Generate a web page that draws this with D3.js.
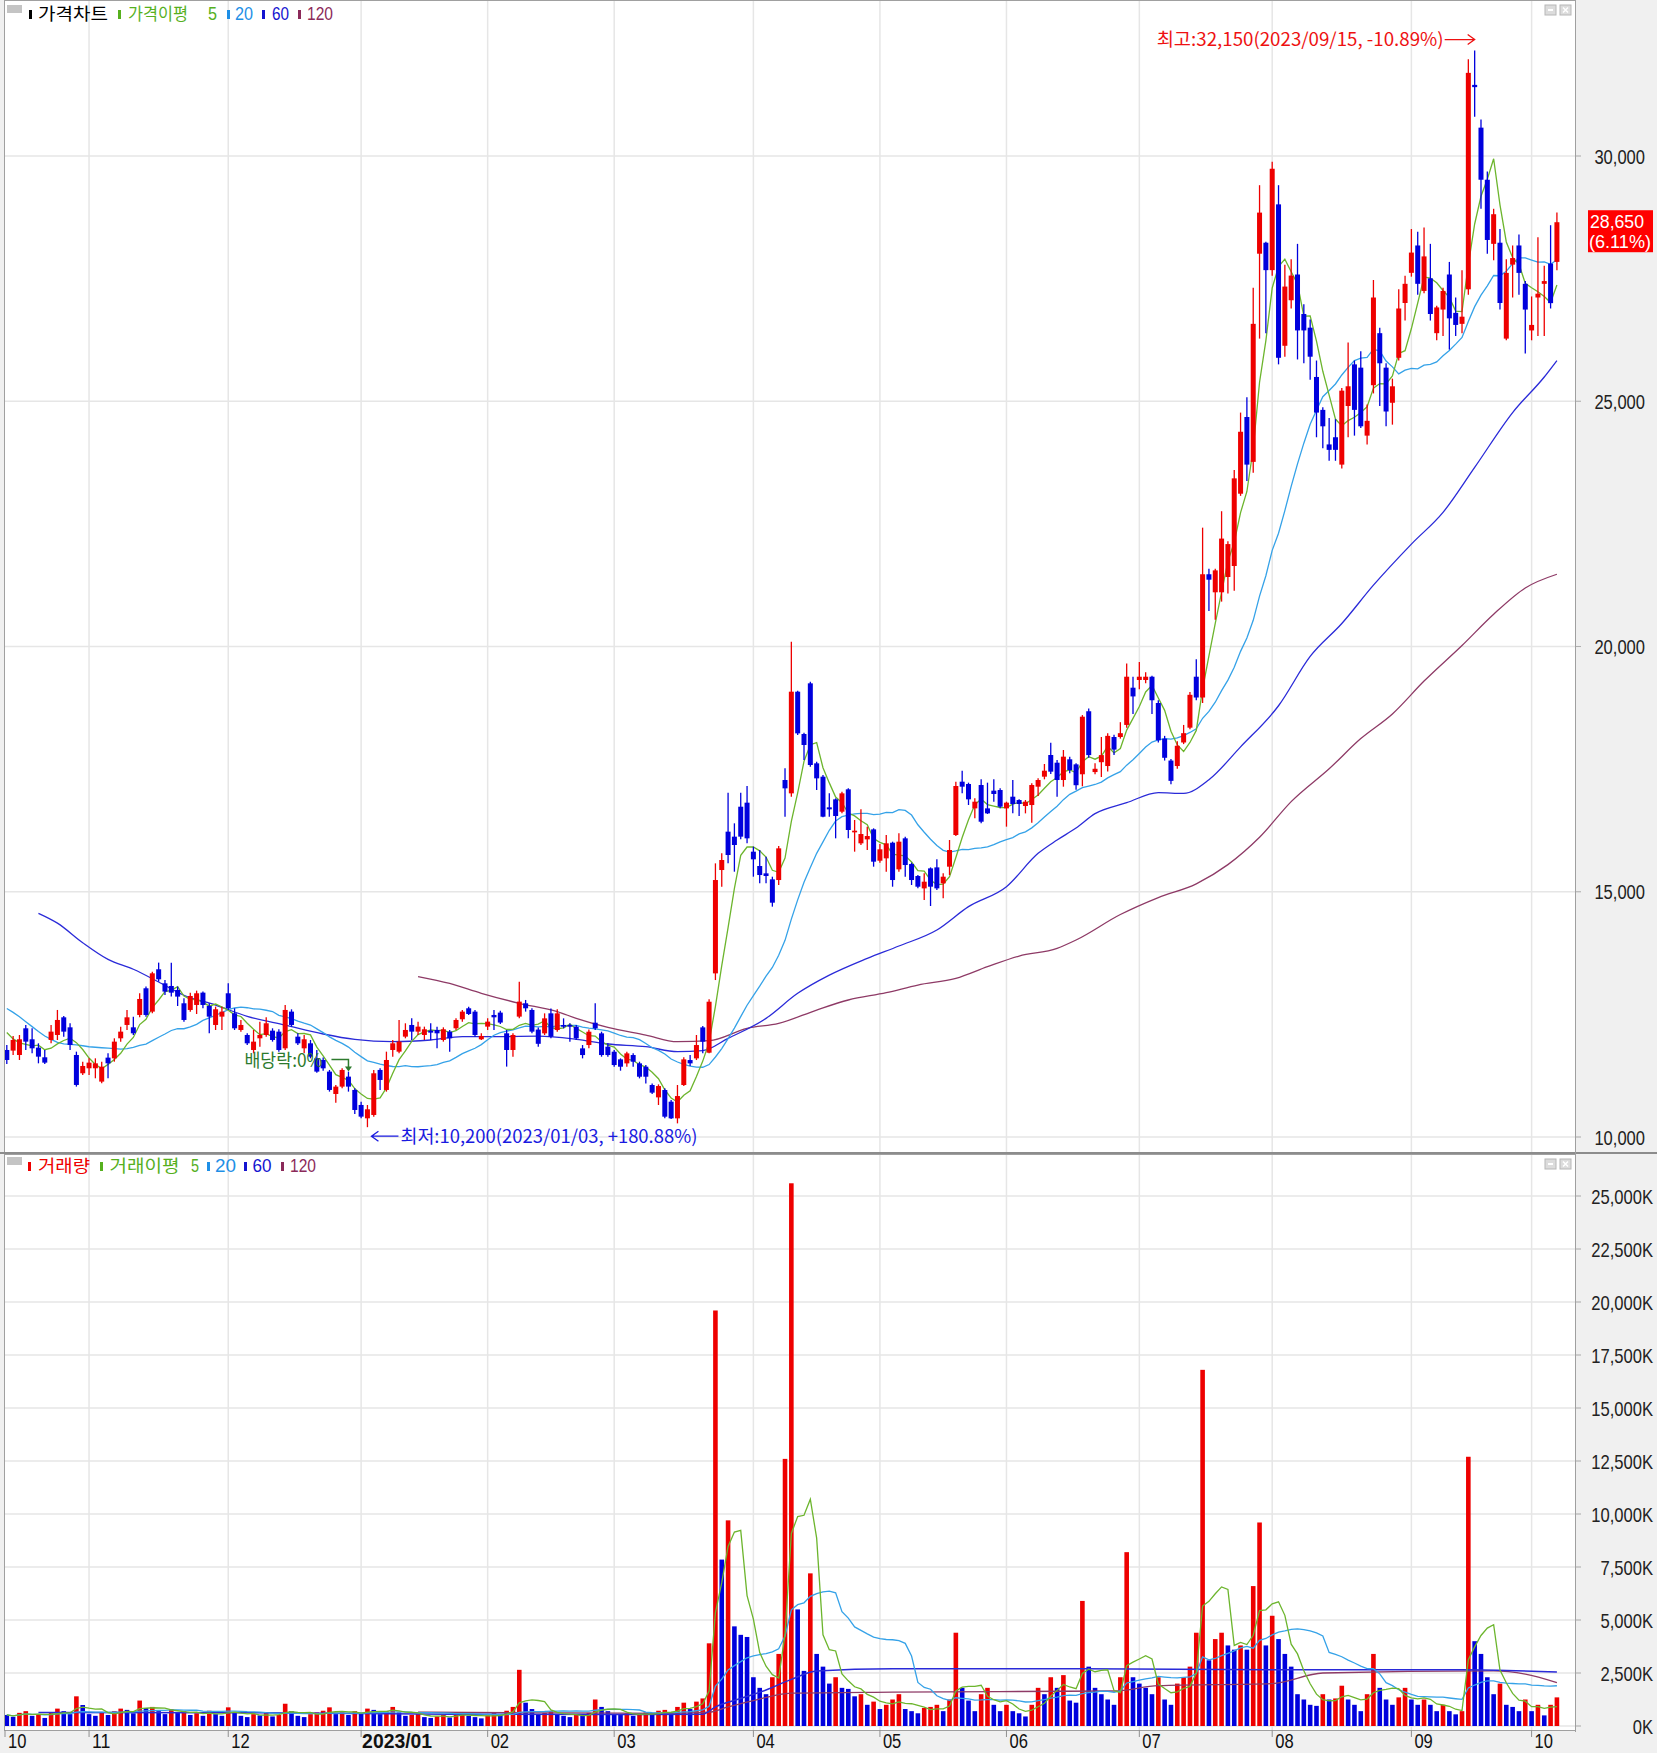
<!DOCTYPE html>
<html><head><meta charset="utf-8">
<script src="https://cdn.jsdelivr.net/npm/d3@7/dist/d3.min.js"></script>
<style>
body{margin:0;background:#fff;}
svg{display:block;}
</style></head><body>
<svg id="c" width="1657" height="1753"></svg>
<script>
// ---------------- DATA (trading days 2022/10/13 .. 2023/10/11) ----------------
const opens=[11774,11761,11672,12216,11992,11822,11625,11978,12080,12440,12236,11672,11299,11401,11401,11129,11618,11604,12012,12284,12236,
12488,13032,12556,13419,13133,13079,12998,12726,12590,12692,12943,12671,12284,12454,12930,12522,12182,12080,11774,12012,
12080,12168,12148,11808,12556,12046,11808,11910,11604,11570,11333,10877,11027,11231,10959,10653,10381,10449,11367,10959,
11774,11740,12046,12284,12148,12080,12168,12182,11978,12148,12216,12400,12624,12556,11992,12250,12488,12536,12114,11774,
12454,12726,12590,12190,12113,12521,12181,12283,12283,12249,11807,11875,12330,12113,11841,11739,11583,11501,11671,11501,
11433,11060,10808,10958,10720,10380,11060,11569,11603,12235,11719,13336,15443,16225,16123,16734,16816,15817,15525,15375,
15253,15239,17278,17006,19079,18216,19249,17618,17346,16721,16884,16632,17088,16211,15987,16068,16272,15633,15681,16000,
15457,16089,15565,15321,15069,15477,15497,15171,15511,16157,17244,17197,16700,17176,16700,17061,17074,16700,16938,16870,
16748,16768,17142,17346,17788,17631,17278,17700,17597,17395,18680,17440,17641,17563,18155,18155,18401,19160,19317,19317,
19384,18848,18122,17675,17563,18043,18345,19384,18960,21473,21105,21105,21417,21641,23115,24679,23764,28008,28232,27673,
29014,26131,27059,27584,26779,26500,25495,24824,24120,24266,23708,24903,25752,25685,24299,25327,26388,25685,24969,25886,
27003,27618,28176,27249,27506,26388,26869,27584,26802,26578,27282,31450,30578,29516,28209,28232,26277,27785,28176,27394,
26444,27115,27394,27807,27841];
const highs=[11876,12060,12080,12284,12216,11910,11774,12284,12590,12468,12318,11740,11536,11604,11604,11536,11706,12012,12250,12590,12454,
12930,13066,13371,13555,13201,13555,13066,12828,12943,12984,12964,12726,12658,12658,13133,12624,12386,12114,12182,12352,
12440,12216,12196,12692,12603,12114,12080,11978,11774,11620,11367,11061,11401,11333,10993,10721,10653,11367,11401,11740,
11978,12386,12318,12420,12352,12250,12318,12250,12236,12182,12420,12590,12658,12590,12114,12420,12590,12576,12182,12114,
13167,12794,12624,12230,12521,12622,12602,12419,12317,12283,11875,12194,12725,12147,11909,11773,11603,11739,11705,11535,
11467,11093,11073,10992,10754,11060,11624,11671,12079,12262,12806,15579,15783,17020,16395,17020,17156,15919,15851,15715,
15307,15933,17516,20098,19099,18243,19283,17652,17380,17006,16904,17040,17108,16463,16680,16327,16293,15973,16157,16021,
16191,16123,15593,15341,15375,15497,15661,15375,16055,17244,17468,17224,16904,17292,17224,17292,17108,16836,17278,16884,
16870,17210,17312,17604,18039,17686,17890,17754,17619,18602,18736,17619,18155,18233,18200,18457,19652,19384,19686,19474,
19406,18904,18178,17708,18066,18401,19071,19742,22423,21585,21585,22758,22144,23596,24769,25082,27316,29405,28254,29885,
29405,27785,27896,28209,26980,26668,25830,24880,24657,24634,25272,26198,25830,26020,24936,27472,26500,25774,25461,27282,
27561,28511,28455,28544,28209,26947,27316,27841,27115,27673,31974,32150,30745,29684,28924,28511,27896,28176,28399,27450,
27137,28343,27762,28589,28846];
const lows=[11489,11672,11570,11774,11706,11502,11489,11910,11978,12046,11774,11027,11265,11265,11197,11095,11197,11536,11944,12182,12080,
12440,12454,12522,13167,12896,12862,12671,12352,12556,12508,12624,12114,12182,12182,12590,12182,12148,11876,11706,11842,
12046,11944,11740,11774,12250,11876,11706,11604,11312,11350,10925,10700,10993,10925,10469,10381,10200,10415,10959,10925,
11638,11706,12012,11978,12080,11978,11978,11808,11944,11740,12182,12352,12488,12046,11978,12182,12182,12304,11435,11638,
12420,12556,12114,11841,12079,12011,12147,12215,11943,11977,11603,11807,12181,11637,11637,11433,11352,11433,11433,11195,
11093,10876,10652,10380,10366,10278,11039,11447,11569,11705,11705,13200,15103,15579,15409,16068,15987,15307,15171,15171,
14696,15137,16530,16938,18196,17686,17550,17074,16517,16530,16089,16598,16089,15817,15953,15851,15511,15593,15409,15103,
15409,15307,15137,15069,14831,14709,15035,14865,15341,16136,17006,16768,16497,16395,16585,16836,16700,16327,16598,16544,
16598,16409,16952,17292,17400,16938,17142,17414,17082,17150,17730,17395,17340,17452,17786,18122,18345,18625,19127,19250,
18625,18043,17675,17194,17507,18010,18312,18904,18848,20725,20546,20915,21083,21138,23071,23372,23540,26277,26388,27561,
25752,25908,26891,25852,25774,25439,24266,24043,23786,23786,23629,24266,24299,24456,24120,25160,24903,24489,24523,25830,
26645,27540,27171,27204,26645,26243,26332,26054,26332,26388,27171,30801,28924,28008,27874,26869,26243,27115,27171,25975,
26243,26332,26332,26891,27673];
const closes=[11570,11978,11992,11944,11808,11638,11516,12148,12386,12148,11876,11061,11448,11516,11502,11434,11502,11944,12148,12440,12114,
12814,12488,13337,13215,12964,12943,12862,12386,12875,12930,12692,12454,12604,12556,12624,12216,12284,11910,11944,12080,
12318,11978,11774,12590,12284,11910,11992,11638,11333,11400,10959,11027,11367,11027,10551,10415,10565,11299,11163,11570,
11910,11944,12182,12148,12250,12196,12128,12114,12196,12012,12386,12556,12508,12080,12060,12352,12440,12333,11774,12080,
12760,12624,12148,11900,12419,12045,12521,12249,12249,12011,11671,12147,12215,11671,11671,11467,11433,11705,11535,11229,
11229,10904,11039,10414,10380,10835,11583,11501,11875,11943,12758,15239,15647,15749,15953,16123,16089,15661,15341,15321,
14777,15885,17108,19079,18229,17992,17584,17312,16530,16680,16544,17006,16259,16245,16177,16136,15613,15865,15987,15239,
16021,15545,15239,15103,15205,15103,15069,15307,15851,17156,17142,16884,16836,16428,16598,16993,16734,16816,16789,16789,
16836,17176,17278,17468,17448,17278,17754,17480,17172,18569,17786,17507,17786,18178,17898,18233,19384,18982,19384,19384,
18904,18088,17731,17261,17976,18233,19015,18960,21473,21362,21552,22200,22088,23428,24378,23708,26578,28846,27673,29740,
25886,27338,27562,26444,26444,25908,24769,24489,24009,24009,25216,25305,24824,24489,24601,27115,25774,24791,25305,26891,
27394,28031,27394,27953,26779,26913,27249,26690,26556,26724,31695,31404,29516,28288,28813,27003,27617,27919,27617,26869,
26556,27193,27450,27000,28650];
const volumes=[520,430,620,700,480,560,380,650,820,700,560,
1400,990,560,480,620,520,700,820,760,600,
1200,850,900,700,560,800,640,700,520,600,
480,720,560,480,880,620,480,420,560,500,
640,450,520,1050,700,480,420,560,640,720,
880,560,640,520,700,600,820,760,560,700,
900,640,480,520,560,420,380,450,520,400,
560,620,480,420,360,500,640,560,720,900,
2650,1100,800,560,620,700,560,480,420,520,
480,620,1250,900,700,560,520,600,480,560,
640,520,720,760,600,900,1100,800,1150,1300,
3900,19600,7850,9700,4700,4300,4200,2300,1800,1500,
2300,3400,12600,25600,5500,2600,7200,3400,2800,2000,
2300,1800,1750,1400,1500,1000,1150,800,1000,1250,
1500,800,700,600,850,900,1000,700,1250,4400,
1800,1200,700,1500,1800,1000,700,1000,700,600,
450,1000,1800,1500,2300,1800,2400,1200,1100,5900,
2800,1800,1500,1250,1000,2300,8200,2300,2000,1800,
1500,2300,1250,1000,2000,2300,2800,4400,16800,3100,
4100,4400,3800,3600,3800,3600,6600,9600,3800,5200,
4100,3400,2800,1500,1250,1000,950,1500,1250,1300,
1900,1250,1000,700,1500,3400,1800,1250,1000,1350,
1800,1250,1000,1250,1000,700,1000,700,550,700,
12700,4000,3400,2300,1500,2000,1000,900,700,1250,
700,1000,500,1000,1350];
const ma5Head=[12130,12000,11920,11890];
const ma20Head=[12620,12540,12450,12350,12250,12150,12060,11990,11930,11900,11890,11880,11860,11840,11830,11820,11810,11800,11790];
const ma60Pts=[[5,14560],[8,14360],[12,13960],[16,13620],[20,13420],[24,13160],[28,12890],[33,12690],[38,12460],[44,12280],[50,12100],[55,11990],[61,11944],[67,11978],[72,12046],[78,12046],[84,12055],[90,11991],[95,11896],[101,11841],[106,11739],[110,11760],[114,12011],[120,12419],[125,12929],[130,13300],[136,13642],[141,13894],[147,14220],[152,14696],[158,15103],[163,15783],[166,16055],[169,16300],[172,16592],[177,16815],[182,17020],[186,17005],[190,17284],[195,17954],[201,18792],[206,19797],[211,20468],[216,21250],[222,22088],[227,22735],[232,23652],[238,24769],[243,25495],[245,25830]];
const ma120Pts=[[65,13270],[70,13130],[75,12930],[81,12726],[87,12556],[90,12419],[95,12235],[101,12079],[106,11943],[111,11963],[117,12215],[122,12317],[128,12589],[133,12793],[139,12942],[144,13098],[150,13234],[155,13472],[160,13690],[166,13846],[169,14016],[176,14536],[182,14882],[188,15162],[193,15553],[198,16111],[203,16837],[209,17507],[214,18122],[219,18625],[224,19295],[230,20021],[235,20658],[240,21194],[245,21473]];
const volMa60Pts=[[5,640],[40,620],[70,560],[100,540],[110,560],[112,900],[116,1300],[120,1700],[124,2200],[128,2600],[140,2700],[170,2700],[200,2650],[230,2650],[245,2550]];
const volMa120Pts=[[65,650],[85,620],[105,600],[111,650],[114,900],[118,1200],[124,1550],[140,1600],[175,1650],[182,1900],[200,2000],[208,2500],[235,2600],[240,2450],[245,2050]];
const monthIdx=[0,13,35,56,76,96,118,138,158,179,200,222,241];
const monthLabels=["10","11","12","2023/01","02","03","04","05","06","07","08","09","10"];
const priceTicks=[10000,15000,20000,25000,30000];
const volTicks=[0,2500,5000,7500,10000,12500,15000,17500,20000,22500,25000];
const lastLabel=["28,650","(6.11%)"];
const highNote="최고:32,150(2023/09/15, -10.89%)";
const lowNote="최저:10,200(2023/01/03, +180.88%)";
const divNote="배당락:0%";
const highIdx=232, lowIdx=57, divIdx=54;

// ---------------- CHART ----------------
const C={red:"#ee0000",blue:"#0000dd",ma5:"#6cb52d",ma20:"#35a2e8",ma60:"#2a2ad8",ma120:"#8e3a66",grid:"#e6e6e6",border:"#a0a0a0",bg:"#f0f0f0"};
const svg=d3.select("#c");
const N=closes.length;
const L=5,R=1575,PT=1,PB=1152,VT=1155,VB=1730;
const x=d3.scaleLinear().domain([0,N-1]).range([6.8,6.8+(N-1)*6.327]);
const yP=d3.scaleLinear().domain([10000,30000]).range([1137,156]);
const yV=d3.scaleLinear().domain([0,25000]).range([1726,1196]);
const NUMF="'Liberation Sans',Arial,sans-serif";
const KF="'Noto Sans CJK KR','Noto Sans',sans-serif";
function cw(s){let w=0;for(const ch of s){if(/[0-9]/.test(ch))w+=9.2;else if(ch===","||ch===".")w+=4.6;else if(ch==="K")w+=11;else if(ch==="%")w+=12;else if(ch==="("||ch===")")w+=5.5;else if(ch==="/")w+=6;else w+=9;}return w;}

// backgrounds
svg.append("rect").attr("x",0).attr("y",0).attr("width",1657).attr("height",1753).attr("fill",C.bg);
svg.append("rect").attr("x",L).attr("y",PT).attr("width",R-L).attr("height",PB-PT).attr("fill","#fff");
svg.append("rect").attr("x",L).attr("y",VT).attr("width",R-L).attr("height",VB-VT).attr("fill","#fff");

const defs=svg.append("defs");
defs.append("clipPath").attr("id","cp").append("rect").attr("x",L).attr("y",PT).attr("width",R-L).attr("height",PB-PT);
defs.append("clipPath").attr("id","cv").append("rect").attr("x",L).attr("y",VT).attr("width",R-L).attr("height",VB-VT);

// grid
const grid=svg.append("g");
priceTicks.forEach(t=>grid.append("line").attr("x1",L).attr("x2",R+6).attr("y1",yP(t)).attr("y2",yP(t)).attr("stroke",C.grid).attr("stroke-width",1.5));
volTicks.forEach(t=>grid.append("line").attr("x1",L).attr("x2",R+6).attr("y1",yV(t)).attr("y2",yV(t)).attr("stroke",C.grid).attr("stroke-width",1.5));
monthIdx.slice(1).forEach(i=>{
  grid.append("line").attr("x1",x(i)).attr("x2",x(i)).attr("y1",PT).attr("y2",PB).attr("stroke",C.grid).attr("stroke-width",1.5);
  grid.append("line").attr("x1",x(i)).attr("x2",x(i)).attr("y1",VT).attr("y2",VB).attr("stroke",C.grid).attr("stroke-width",1.5);
});
// right-axis tick marks
priceTicks.forEach(t=>svg.append("line").attr("x1",R).attr("x2",R+6).attr("y1",yP(t)).attr("y2",yP(t)).attr("stroke","#b0b0b0"));
volTicks.forEach(t=>svg.append("line").attr("x1",R).attr("x2",R+6).attr("y1",yV(t)).attr("y2",yV(t)).attr("stroke","#b0b0b0"));

// moving averages
function maOf(arr,n,head){return arr.map((v,i)=>{if(i>=n-1){let s=0;for(let k=i-n+1;k<=i;k++)s+=arr[k];return s/n;}if(head)return head[i];let s=0;for(let k=0;k<=i;k++)s+=arr[k];return s/(i+1);});}
const ma5=maOf(closes,5,ma5Head), ma20=maOf(closes,20,ma20Head);
const vma5=maOf(volumes,5,null), vma20=maOf(volumes,20,null);

const gP=svg.append("g").attr("clip-path","url(#cp)");
const lineP=d3.line().x(d=>x(d[0])).y(d=>yP(d[1]));
const lineV=d3.line().x(d=>x(d[0])).y(d=>yV(d[1]));
gP.append("path").attr("d",lineP.curve(d3.curveMonotoneX)(ma120Pts)).attr("fill","none").attr("stroke",C.ma120).attr("stroke-width",1.3);
gP.append("path").attr("d",lineP.curve(d3.curveMonotoneX)(ma60Pts)).attr("fill","none").attr("stroke",C.ma60).attr("stroke-width",1.3);
gP.append("path").attr("d",lineP.curve(d3.curveLinear)(ma20.map((v,i)=>[i,v]))).attr("fill","none").attr("stroke",C.ma20).attr("stroke-width",1.3);
gP.append("path").attr("d",lineP.curve(d3.curveLinear)(ma5.map((v,i)=>[i,v]))).attr("fill","none").attr("stroke",C.ma5).attr("stroke-width",1.3);

// candles
const cg=gP.selectAll("g.c").data(d3.range(N)).join("g");
const col=i=>closes[i]>=opens[i]?C.red:C.blue;
cg.append("line").attr("x1",i=>x(i)).attr("x2",i=>x(i)).attr("y1",i=>yP(highs[i])).attr("y2",i=>yP(lows[i])).attr("stroke",col).attr("stroke-width",1.3);
cg.append("rect").attr("x",i=>x(i)-2.5).attr("width",5)
  .attr("y",i=>yP(Math.max(opens[i],closes[i])))
  .attr("height",i=>Math.max(1.3,Math.abs(yP(opens[i])-yP(closes[i]))))
  .attr("fill",col);

// volume
const gV=svg.append("g").attr("clip-path","url(#cv)");
const vcol=i=>(i>0&&volumes[i]>=volumes[i-1])?C.red:C.blue;
gV.selectAll("rect.v").data(d3.range(N)).join("rect").attr("x",i=>x(i)-2.3).attr("width",4.6)
  .attr("y",i=>yV(volumes[i])).attr("height",i=>yV(0)-yV(volumes[i])).attr("fill",vcol);
gV.append("path").attr("d",lineV.curve(d3.curveMonotoneX)(volMa120Pts)).attr("fill","none").attr("stroke",C.ma120).attr("stroke-width",1.3);
gV.append("path").attr("d",lineV.curve(d3.curveMonotoneX)(volMa60Pts)).attr("fill","none").attr("stroke",C.ma60).attr("stroke-width",1.5);
gV.append("path").attr("d",lineV.curve(d3.curveLinear)(vma20.map((v,i)=>[i,v]))).attr("fill","none").attr("stroke",C.ma20).attr("stroke-width",1.3);
gV.append("path").attr("d",lineV.curve(d3.curveLinear)(vma5.map((v,i)=>[i,v]))).attr("fill","none").attr("stroke",C.ma5).attr("stroke-width",1.3);

// borders
svg.append("rect").attr("x",L-0.5).attr("y",0.5).attr("width",R-L+1).attr("height",PB).attr("fill","none").attr("stroke",C.border);
svg.append("line").attr("x1",0).attr("x2",1657).attr("y1",PB+1).attr("y2",PB+1).attr("stroke","#8c8c8c").attr("stroke-width",2);
svg.append("rect").attr("x",L-0.5).attr("y",VT-0.5).attr("width",R-L+1).attr("height",VB-VT+1).attr("fill","none").attr("stroke",C.border);
svg.append("line").attr("x1",R+0.5).attr("x2",R+0.5).attr("y1",0).attr("y2",VB+2).attr("stroke",C.border);

// y-axis labels (condensed by horizontal scaling, right aligned)
const pFmt=t=>d3.format(",")(t), vFmt=t=>d3.format(",")(t)+"K";
svg.append("g").selectAll("text").data(priceTicks).join("text")
  .attr("x",t=>1645-cw(pFmt(t))).attr("y",t=>yP(t)+7.5)
  .attr("font-family",NUMF).attr("font-size",20).attr("fill","#222")
  .attr("textLength",t=>cw(pFmt(t))).attr("lengthAdjust","spacingAndGlyphs")
  .text(pFmt);
svg.append("g").selectAll("text").data(volTicks).join("text")
  .attr("transform",t=>`translate(1653,${yV(t)+7.5}) scale(0.83,1)`).attr("text-anchor","end")
  .attr("font-family",NUMF).attr("font-size",20).attr("fill","#222")
  .text(vFmt);

// x-axis
monthIdx.forEach((i,k)=>{
  if(k>0) svg.append("line").attr("x1",x(i)).attr("x2",x(i)).attr("y1",VB).attr("y2",VB+7).attr("stroke","#909090");
  const lab=monthLabels[k], bold=lab.length>2;
  svg.append("text").attr("x",k===0?8:x(i)+(bold?1:3)).attr("y",1748)
    .attr("font-family",NUMF).attr("font-size",20).attr("font-weight",bold?"bold":"normal").attr("fill","#111")
    .attr("textLength",bold?70:cw(lab)).attr("lengthAdjust","spacingAndGlyphs").text(lab);
});
svg.append("line").attr("x1",5).attr("x2",5).attr("y1",VB).attr("y2",VB+7).attr("stroke","#909090");

// last price box
svg.append("rect").attr("x",1588).attr("y",yP(closes[N-1])-12).attr("width",65).attr("height",42).attr("fill","#ff0000");
svg.append("text").attr("x",1590).attr("y",yP(closes[N-1])+6).attr("font-family",NUMF).attr("font-size",18).attr("fill","#fff")
  .attr("textLength",54).attr("lengthAdjust","spacingAndGlyphs").text(lastLabel[0]);
svg.append("text").attr("x",1589).attr("y",yP(closes[N-1])+26).attr("font-family",NUMF).attr("font-size",18).attr("fill","#fff")
  .attr("textLength",62).attr("lengthAdjust","spacingAndGlyphs").text(lastLabel[1]);

// annotations
const ann=svg.append("g");
const hx=x(highIdx), hy=yP(highs[highIdx])-11;
ann.append("text").attr("x",hx-318).attr("y",hy+6).attr("font-family",KF).attr("font-size",18).attr("fill","#ee1111")
  .attr("textLength",287).attr("lengthAdjust","spacingAndGlyphs").text(highNote);
ann.append("path").attr("d",`M${hx-30},${hy}L${hx},${hy}M${hx-7},${hy-5}L${hx},${hy}L${hx-7},${hy+5}`).attr("fill","none").attr("stroke","#ee1111").attr("stroke-width",1.3);
const lx=x(lowIdx)+4, ly=yP(lows[lowIdx])+9;
ann.append("path").attr("d",`M${lx},${ly}L${lx+27},${ly}M${lx+7},${ly-5}L${lx},${ly}L${lx+7},${ly+5}`).attr("fill","none").attr("stroke","#1a1ae0").attr("stroke-width",1.3);
ann.append("text").attr("x",lx+29).attr("y",ly+7).attr("font-family",KF).attr("font-size",18).attr("fill","#1a1ae0")
  .attr("textLength",297).attr("lengthAdjust","spacingAndGlyphs").text(lowNote);
const dx=x(divIdx), dy=yP(highs[divIdx]);
ann.append("text").attr("x",dx-104).attr("y",dy-5).attr("font-family",KF).attr("font-size",18).attr("fill","#2d7a2d")
  .attr("textLength",78).attr("lengthAdjust","spacingAndGlyphs").text(divNote);
ann.append("path").attr("d",`M${dx-17},${dy-12}L${dx},${dy-12}L${dx},${dy-2}`).attr("fill","none").attr("stroke","#2d7a2d").attr("stroke-width",1.5);
ann.append("path").attr("d",`M${dx-3.5},${dy-5}L${dx+3.5},${dy-5}L${dx},${dy}Z`).attr("fill","#2d7a2d");

// legends
function legend(y0,items){
  const g=svg.append("g");
  g.append("rect").attr("x",7).attr("y",y0-15).attr("width",15).attr("height",8).attr("fill","#c4c4c4");
  items.forEach(it=>{
    if(it.mark!==undefined) g.append("rect").attr("x",it.mark).attr("y",y0-10).attr("width",3).attr("height",9).attr("fill",it.c);
    g.append("text").attr("x",it.x).attr("y",y0).attr("font-family",it.k?KF:NUMF).attr("font-size",it.k?17:19).attr("fill",it.c)
      .attr("textLength",it.w).attr("lengthAdjust","spacingAndGlyphs").text(it.t);
  });
}
legend(20,[{mark:29,x:38,w:70,t:"가격차트",c:"#000",k:1},{mark:118,x:128,w:60,t:"가격이평",c:"#56b01e",k:1},{x:208,w:9,t:"5",c:"#56b01e"},
  {mark:227,x:235,w:18,t:"20",c:"#1e8fe6"},{mark:262,x:272,w:17,t:"60",c:"#1414d0"},{mark:298,x:307,w:26,t:"120",c:"#8b2a5a"}]);
legend(1172,[{mark:28,x:38,w:52,t:"거래량",c:"#ee0000",k:1},{mark:100,x:109.5,w:70,t:"거래이평",c:"#56b01e",k:1},{x:191,w:8,t:"5",c:"#56b01e"},
  {mark:207,x:215,w:21,t:"20",c:"#1e8fe6"},{mark:244,x:252.5,w:19,t:"60",c:"#1414d0"},{mark:281,x:290,w:26,t:"120",c:"#8b2a5a"}]);

// panel buttons
function buttons(y0){
  [1545,1560].forEach((bx,k)=>{
    svg.append("rect").attr("x",bx).attr("y",y0).attr("width",11).attr("height",10).attr("fill","#dcdcdc").attr("stroke","#b8b8b8");
    if(k===0) svg.append("line").attr("x1",bx+3).attr("x2",bx+8).attr("y1",y0+5).attr("y2",y0+5).attr("stroke","#fff").attr("stroke-width",2);
    else svg.append("path").attr("d",`M${bx+3},${y0+2.5}L${bx+8},${y0+7.5}M${bx+8},${y0+2.5}L${bx+3},${y0+7.5}`).attr("stroke","#fff").attr("stroke-width",1.5);
  });
}
buttons(5); buttons(1159);
</script>
</body></html>
